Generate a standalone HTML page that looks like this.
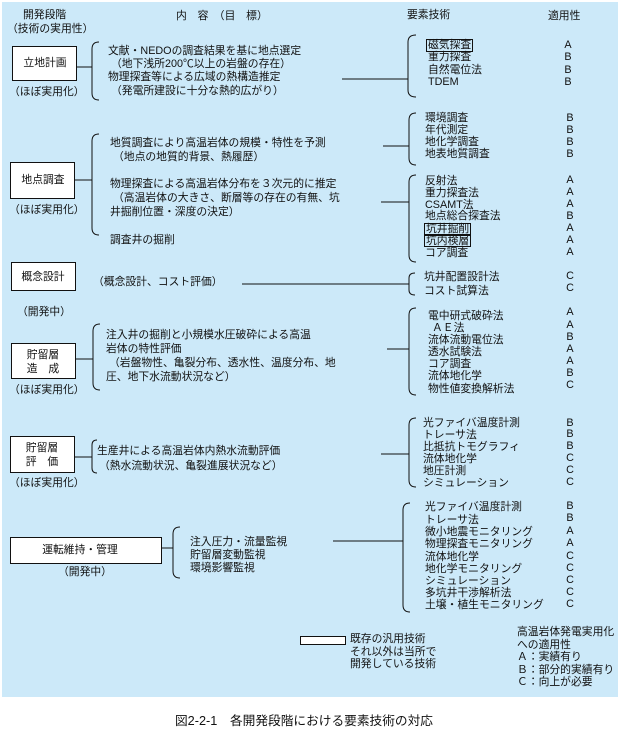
<!DOCTYPE html>
<html><head><meta charset="utf-8"><style>
body{margin:0;background:#fff;width:620px;height:735px;overflow:hidden}
svg{display:block}
text{font-family:"Liberation Sans","Noto Sans CJK JP",sans-serif;font-size:10.8px;fill:#111;dominant-baseline:central}
</style></head><body>
<svg width="620" height="735" viewBox="0 0 620 735">
<rect x="2" y="2" width="616" height="695" fill="#cce9f9"/>
<g fill="none" stroke="#111" stroke-width="1">
<rect x="12.5" y="46.5" width="64" height="34" fill="#fff"/>
<rect x="10.5" y="162.5" width="64" height="36" fill="#fff"/>
<rect x="11.5" y="262.5" width="64" height="28" fill="#fff"/>
<rect x="11.5" y="343.5" width="64" height="35" fill="#fff"/>
<rect x="10.5" y="436.5" width="64" height="36" fill="#fff"/>
<rect x="10.5" y="537.5" width="151" height="26" fill="#fff"/>
<rect x="300.5" y="636.5" width="45" height="8" fill="#fff"/>
<rect x="426.5" y="39.5" width="46" height="12"/>
<rect x="424.5" y="223.5" width="46" height="11"/>
<rect x="424.5" y="235.5" width="46" height="11"/>
<path d="M77 67H92M75 180H92M75 359H93M75 457H92M162 548H173"/>
<path d="M99 42Q92 42 92 49V93Q92 100 99 100"/>
<path d="M99 134Q92 134 92 141V228Q92 235 99 235"/>
<path d="M100 324Q93 324 93 331V383Q93 390 100 390"/>
<path d="M97 440Q92 440 92 445V468Q92 473 97 473"/>
<path d="M180 527Q173 527 173 534V571Q173 578 180 578"/>
<path d="M342 79H408M383 146H409M381 202H409M242 284H409M387 349H409M381 454H409M333 541H403"/>
<path d="M416 35Q408 35 408 42V90Q408 97 416 97"/>
<path d="M416 113Q409 113 409 120V158Q409 165 416 165"/>
<path d="M416 175Q409 175 409 182V255Q409 262 416 262"/>
<path d="M415 273Q409 273 409 278V290Q409 295 415 295"/>
<path d="M416 308Q409 308 409 315V388Q409 395 416 395"/>
<path d="M416 418Q409 418 409 425V480Q409 487 416 487"/>
<path d="M410 503Q403 503 403 510V605Q403 612 410 612"/>
</g>
<text x="23" y="15">開発段階</text>
<text x="7" y="29">（技術の実用性）</text>
<text x="176" y="16">内　容　（目　標）</text>
<text x="407" y="15">要素技術</text>
<text x="548" y="16">適用性</text>
<text x="45" y="63" text-anchor="middle">立地計画</text>
<text x="9" y="92">（ほぼ実用化）</text>
<text x="43" y="180" text-anchor="middle">地点調査</text>
<text x="9" y="210">（ほぼ実用化）</text>
<text x="43" y="277" text-anchor="middle">概念設計</text>
<text x="17" y="312">（開発中）</text>
<text x="43" y="355" text-anchor="middle">貯留層</text>
<text x="43" y="369" text-anchor="middle">造　成</text>
<text x="9" y="390">（ほぼ実用化）</text>
<text x="42" y="448" text-anchor="middle">貯留層</text>
<text x="42" y="462" text-anchor="middle">評　価</text>
<text x="9" y="483">（ほぼ実用化）</text>
<text x="80" y="550" text-anchor="middle">運転維持・管理</text>
<text x="58" y="572">（開発中）</text>
<text x="108" y="51">文献・NEDOの調査結果を基に地点選定</text>
<text x="111" y="64">（地下浅所200℃以上の岩盤の存在）</text>
<text x="108" y="77">物理探査等による広域の熱構造推定</text>
<text x="111" y="91">（発電所建設に十分な熱的広がり）</text>
<text x="110" y="143">地質調査により高温岩体の規模・特性を予測</text>
<text x="113" y="157">（地点の地質的背景、熱履歴）</text>
<text x="110" y="184">物理探査による高温岩体分布を３次元的に推定</text>
<text x="113" y="198">（高温岩体の大きさ、断層等の存在の有無、坑</text>
<text x="110" y="212">井掘削位置・深度の決定）</text>
<text x="110" y="240">調査井の掘削</text>
<text x="93" y="282">（概念設計、コスト評価）</text>
<text x="106" y="335">注入井の掘削と小規模水圧破砕による高温</text>
<text x="106" y="349">岩体の特性評価</text>
<text x="109" y="363">（岩盤物性、亀裂分布、透水性、温度分布、地</text>
<text x="106" y="377">圧、地下水流動状況など）</text>
<text x="97" y="451">生産井による高温岩体内熱水流動評価</text>
<text x="99" y="466">（熱水流動状況、亀裂進展状況など）</text>
<text x="190" y="542">注入圧力・流量監視</text>
<text x="190" y="555">貯留層変動監視</text>
<text x="190" y="568">環境影響監視</text>
<g>
<text x="428" y="45">磁気探査</text><text x="568" y="45" text-anchor="middle">A</text>
<text x="428" y="57">重力探査</text><text x="568" y="57" text-anchor="middle">B</text>
<text x="428" y="70">自然電位法</text><text x="568" y="70" text-anchor="middle">B</text>
<text x="428" y="82">TDEM</text><text x="568" y="82" text-anchor="middle">B</text>
<text x="425" y="118">環境調査</text><text x="570" y="118" text-anchor="middle">B</text>
<text x="425" y="130">年代測定</text><text x="570" y="130" text-anchor="middle">B</text>
<text x="425" y="142">地化学調査</text><text x="570" y="142" text-anchor="middle">B</text>
<text x="425" y="154">地表地質調査</text><text x="570" y="154" text-anchor="middle">B</text>
<text x="425" y="181">反射法</text><text x="570" y="180" text-anchor="middle">A</text>
<text x="425" y="193">重力探査法</text><text x="570" y="192" text-anchor="middle">A</text>
<text x="425" y="205">CSAMT法</text><text x="570" y="204" text-anchor="middle">A</text>
<text x="425" y="216">地点総合探査法</text><text x="570" y="216" text-anchor="middle">B</text>
<text x="426" y="229">坑井掘削</text><text x="570" y="228" text-anchor="middle">A</text>
<text x="426" y="241">坑内検層</text><text x="570" y="240" text-anchor="middle">A</text>
<text x="425" y="253">コア調査</text><text x="570" y="252" text-anchor="middle">A</text>
<text x="424" y="277">坑井配置設計法</text><text x="570" y="276" text-anchor="middle">C</text>
<text x="424" y="291">コスト試算法</text><text x="570" y="288" text-anchor="middle">C</text>
<text x="428" y="316">電中研式破砕法</text><text x="570" y="312" text-anchor="middle">A</text>
<text x="432" y="328">ＡＥ法</text><text x="570" y="325" text-anchor="middle">A</text>
<text x="428" y="340">流体流動電位法</text><text x="570" y="337" text-anchor="middle">B</text>
<text x="428" y="352">透水試験法</text><text x="570" y="349" text-anchor="middle">A</text>
<text x="428" y="364">コア調査</text><text x="570" y="361" text-anchor="middle">A</text>
<text x="428" y="376">流体地化学</text><text x="570" y="373" text-anchor="middle">B</text>
<text x="428" y="389">物性値変換解析法</text><text x="570" y="385" text-anchor="middle">C</text>
<text x="423" y="423">光ファイバ温度計測</text><text x="570" y="423" text-anchor="middle">B</text>
<text x="423" y="435">トレーサ法</text><text x="570" y="434" text-anchor="middle">B</text>
<text x="423" y="447">比抵抗トモグラフィ</text><text x="570" y="446" text-anchor="middle">B</text>
<text x="423" y="459">流体地化学</text><text x="570" y="458" text-anchor="middle">C</text>
<text x="423" y="471">地圧計測</text><text x="570" y="470" text-anchor="middle">C</text>
<text x="423" y="483">シミュレーション</text><text x="570" y="482" text-anchor="middle">C</text>
<text x="425" y="507">光ファイバ温度計測</text><text x="570" y="506" text-anchor="middle">B</text>
<text x="425" y="520">トレーサ法</text><text x="570" y="518" text-anchor="middle">B</text>
<text x="425" y="532">微小地震モニタリング</text><text x="570" y="531" text-anchor="middle">A</text>
<text x="425" y="544">物理探査モニタリング</text><text x="570" y="543" text-anchor="middle">A</text>
<text x="425" y="557">流体地化学</text><text x="570" y="556" text-anchor="middle">C</text>
<text x="425" y="569">地化学モニタリング</text><text x="570" y="568" text-anchor="middle">C</text>
<text x="425" y="581">シミュレーション</text><text x="570" y="580" text-anchor="middle">C</text>
<text x="425" y="593">多坑井干渉解析法</text><text x="570" y="592" text-anchor="middle">C</text>
<text x="425" y="605">土壌・植生モニタリング</text><text x="570" y="604" text-anchor="middle">C</text>
</g>
<text x="350" y="639">既存の汎用技術</text>
<text x="350" y="652">それ以外は当所で</text>
<text x="350" y="664">開発している技術</text>
<text x="517" y="632">高温岩体発電実用化</text>
<text x="517" y="645">への適用性</text>
<text x="517" y="657">Ａ：実績有り</text>
<text x="517" y="670">Ｂ：部分的実績有り</text>
<text x="517" y="682">Ｃ：向上が必要</text>
<text x="175" y="721" style="font-size:12.7px">図2-2-1　各開発段階における要素技術の対応</text>
</svg>
</body></html>
